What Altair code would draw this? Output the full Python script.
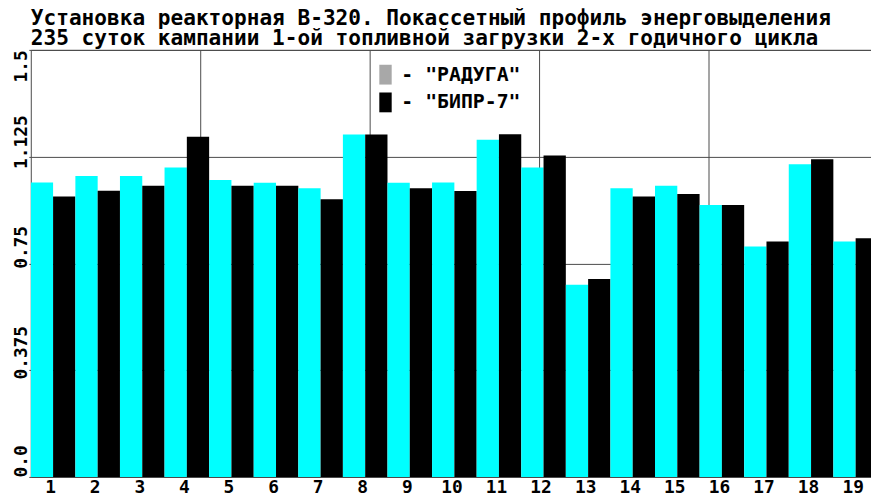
import altair as alt
import pandas as pd

# ---------------- data ----------------
groups = list(range(1, 20))
series_names = ["РАДУГА", "БИПР-7"]
raduga = [1.034, 1.057, 1.057, 1.087, 1.043, 1.033, 1.014, 1.203, 1.033, 1.034,
          1.184, 1.087, 0.675, 1.014, 1.023, 0.955, 0.809, 1.098, 0.827]
bipr7 = [0.985, 1.005, 1.023, 1.195, 1.023, 1.023, 0.975, 1.203, 1.014, 1.004,
         1.204, 1.129, 0.695, 0.985, 0.994, 0.955, 0.827, 1.116, 0.838]
y_ticks = [0, 0.375, 0.75, 1.125, 1.5]
x_grid = [3.8, 7.6, 11.4, 15.2]          # vertical grid lines, in cassette units
title_lines = [
    "Установка реакторная В-320. Покассетный профиль энерговыделения",
    "235 суток кампании 1-ой топливной загрузки 2-х годичного цикла",
]
legend_labels = ['- "' + s + '"' for s in series_names]

# ---------------- layout / style ----------------
FONT = "DejaVu Sans Mono"
GRID = "#4a4a4a"
GROUP_PX = 45.0
PLOT_W = 848
PLOT_H = 431
PAD_L, PAD_T, PAD_B = 23, 40, 20

rows = []
for i, g in enumerate(groups):
    for j, (name, vals) in enumerate(zip(series_names, [raduga, bipr7])):
        rows.append({"group": g, "series": name, "legend": legend_labels[j],
                     "value": vals[i], "base": 0.0,
                     "x0": i + 0.5 * j, "x1": i + 0.5 * (j + 1)})
df = pd.DataFrame(rows)

xscale = alt.Scale(domain=[0, PLOT_W / GROUP_PX], nice=False, zero=False)
yscale = alt.Scale(domain=[0, 1.5], nice=False, zero=True)

yaxis = alt.Axis(
    values=y_ticks, title=None,
    labelExpr="datum.value == 0 ? '0.0' : format(datum.value, '.3~f')",
    grid=True, gridColor=GRID, gridWidth=1,
    domain=True, domainColor=GRID, domainWidth=1,
    ticks=True, tickSize=2, tickColor=GRID,
    labelAngle=-90,
    labelAlign={"condition": {"test": "datum.value == 1.5", "value": "right"}, "value": "left"},
    labelBaseline="alphabetic",
    labelOffset={"condition": [
        {"test": "datum.value == 1.125", "value": 12},
        {"test": "datum.value == 0.375", "value": 9},
        {"test": "datum.value == 0.75", "value": 5}], "value": 0},
    labelPadding=2,
    labelFont=FONT, labelFontSize=18, labelFontWeight="bold", labelColor="black",
    labelFlush=False, labelOverlap=False,
)

xaxis = alt.Axis(
    values=[i + 0.5 for i in range(len(groups))],
    labelExpr="format(datum.value + 0.5, 'd')",
    title=None, grid=False, ticks=False,
    domain=True, domainColor=GRID, domainWidth=1,
    labelFont=FONT, labelFontSize=18, labelFontWeight="bold", labelColor="black",
    labelPadding=2, labelOffset=-3, labelFlush=False, labelOverlap=False,
)

grid_axis = alt.Axis(
    orient="top", values=x_grid, title=None,
    grid=True, gridColor=GRID, gridWidth=1,
    labels=False, ticks=False, domain=True, domainColor=GRID,
)

bars = alt.Chart(df).mark_bar(clip=True).encode(
    x=alt.X("x0:Q", scale=xscale, axis=xaxis),
    x2="x1:Q",
    y=alt.Y("value:Q", scale=yscale, axis=yaxis),
    y2="base:Q",
    color=alt.Color("series:N",
                    scale=alt.Scale(domain=series_names, range=["#00ffff", "#000000"]),
                    legend=None),
)

legend_layer = alt.Chart(df).transform_filter("datum.value > 100").mark_bar(clip=True).encode(
    x=alt.X("x0:Q", scale=xscale, axis=grid_axis),
    x2="x1:Q",
    y=alt.Y("value:Q", scale=yscale, axis=yaxis),
    y2="base:Q",
    fill=alt.Fill("legend:N",
                  scale=alt.Scale(domain=legend_labels, range=["#a8a8a8", "#000000"]),
                  legend=alt.Legend(
                      title=None, orient="none", legendX=348, legendY=15,
                      direction="vertical", padding=0, rowPadding=8,
                      symbolType="M-0.625,-1H0.625V1H-0.625Z", symbolSize=400,
                      symbolOpacity=1, symbolStrokeWidth=0,
                      labelFont=FONT, labelFontSize=20, labelFontWeight="bold",
                      labelColor="black", labelOffset=6, labelLimit=0,
                  )),
)

chart = alt.layer(bars, legend_layer).resolve_axis(x="independent").properties(
    width=PLOT_W, height=PLOT_H,
    autosize=alt.AutoSizeParams(type="none"),
    padding={"left": PAD_L, "top": PAD_T, "right": 0, "bottom": PAD_B},
    background="white",
    title=alt.TitleParams(
        text=title_lines, anchor="start", frame="group",
        font=FONT, fontSize=21.3, fontWeight="bold", color="black",
        lineHeight=20, offset=0,
    ),
).configure_view(stroke=None)

chart.save("out.html", embed_options={"renderer": "svg", "actions": False})
